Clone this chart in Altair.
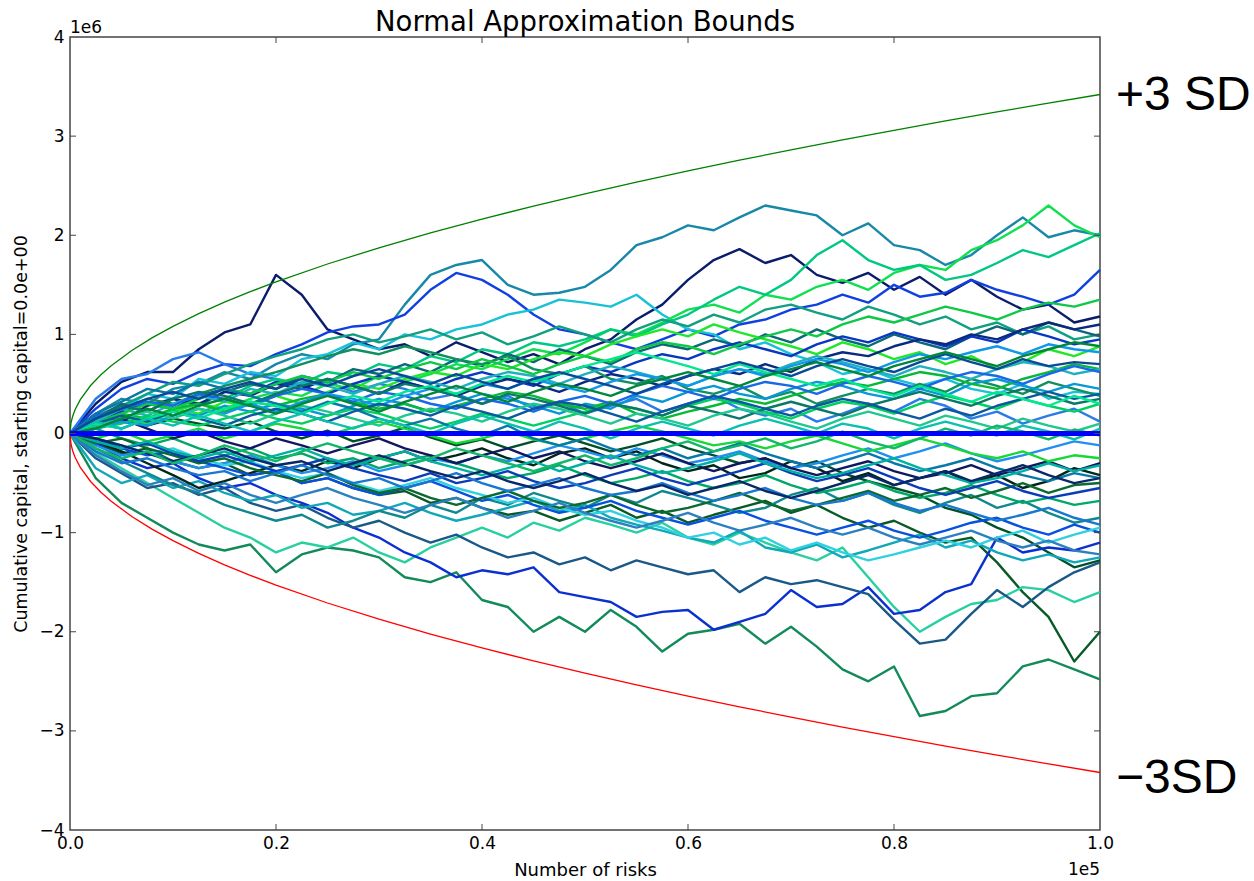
import altair as alt
import pandas as pd

X_STEPS = [0.0, 0.025, 0.05, 0.075, 0.1, 0.125, 0.15, 0.175, 0.2, 0.225, 0.25, 0.275, 0.3, 0.325,
           0.35, 0.375, 0.4, 0.425, 0.45, 0.475, 0.5, 0.525, 0.55, 0.575, 0.6, 0.625, 0.65, 0.675,
           0.7, 0.725, 0.75, 0.775, 0.8, 0.825, 0.85, 0.875, 0.9, 0.925, 0.95, 0.975, 1.0]

# cumulative capital (units of 1e6) for each simulated walk
WALK_01 = [0, .30, .52, .62, .62, .85, 1.02, 1.10, 1.60, 1.40, 1.05, .95, .85, .90, .78, .92, .82, .72, .80, .70, .85, .95, 1.15, 1.30, 1.55, 1.75, 1.86, 1.72, 1.80, 1.60, 1.52, 1.62, 1.45, 1.58, 1.40, 1.55, 1.38, 1.25, 1.30, 1.12, 1.18]
WALK_02 = [0, .20, .35, .30, .45, .50, .62, .55, .70, .80, .75, .90, .95, 1.30, 1.60, 1.70, 1.75, 1.50, 1.40, 1.42, 1.48, 1.65, 1.90, 1.98, 2.10, 2.05, 2.18, 2.30, 2.25, 2.20, 2.00, 2.12, 1.90, 1.85, 1.70, 1.80, 2.00, 2.18, 1.98, 2.05, 2.00]
WALK_03 = [0, .25, .45, .55, .50, .62, .70, .68, .80, .90, 1.02, 1.08, 1.10, 1.20, 1.45, 1.62, 1.55, 1.40, 1.20, 1.05, 1.00, .92, .85, .95, 1.05, .98, 1.10, 1.15, 1.25, 1.30, 1.40, 1.32, 1.50, 1.38, 1.42, 1.55, 1.45, 1.38, 1.30, 1.40, 1.65]
WALK_04 = [0, .35, .55, .60, .75, .82, .70, .60, .55, .48, .52, .42, .50, .45, .35, .40, .30, .38, .25, .32, .20, .28, .35, .22, .30, .38, .25, .18, .25, .12, .20, .30, .22, .35, .28, .15, .22, .10, .18, .25, .12]
WALK_05 = [0, .10, .25, .40, .35, .55, .50, .62, .58, .75, .80, .92, .85, 1.00, .95, 1.05, 1.10, 1.20, 1.25, 1.35, 1.32, 1.28, 1.40, 1.20, 1.05, 1.00, .85, .92, .80, .72, .60, .65, .55, .48, .55, .45, .40, .50, .35, .42, .40]
WALK_06 = [0, .05, .15, .10, .22, .30, .25, .35, .42, .38, .50, .45, .58, .52, .60, .70, .65, .75, .85, .80, .92, 1.05, 1.00, 1.12, 1.25, 1.30, 1.22, 1.40, 1.35, 1.48, 1.55, 1.45, 1.62, 1.70, 1.65, 1.85, 1.95, 2.10, 2.30, 2.10, 1.98]
WALK_07 = [0, .12, .20, .30, .28, .40, .35, .48, .55, .50, .62, .58, .70, .65, .78, .72, .85, .80, .92, .88, .95, 1.05, .98, 1.10, 1.20, 1.35, 1.48, 1.40, 1.55, 1.80, 1.95, 1.75, 1.65, 1.70, 1.55, 1.60, 1.72, 1.85, 1.78, 1.90, 2.02]
WALK_08 = [0, .18, .28, .40, .52, .48, .60, .70, .78, .85, .95, 1.00, .92, .98, 1.05, .95, 1.02, .90, .98, 1.08, 1.00, .92, 1.05, 1.15, 1.08, 1.20, 1.12, 1.25, 1.30, 1.22, 1.15, 1.28, 1.20, 1.10, 1.18, 1.05, 1.12, 1.00, 1.08, .95, 1.00]
WALK_09 = [0, .15, .30, .22, .35, .28, .42, .50, .45, .58, .52, .65, .60, .70, .62, .75, .68, .80, .72, .85, .78, .70, .82, .90, .85, .95, .88, 1.00, .92, 1.05, .95, .88, 1.00, .92, .85, .98, 1.08, 1.00, 1.12, 1.05, .98]
WALK_10 = [0, .08, .18, .12, .25, .20, .32, .28, .38, .30, .42, .50, .45, .55, .62, .58, .70, .65, .75, .82, .78, .90, .98, 1.05, .98, 1.10, 1.02, .95, .88, .80, .92, .85, .75, .82, .70, .78, .65, .72, .85, .78, .88]
WALK_11 = [0, .10, .22, .30, .25, .38, .45, .40, .52, .48, .40, .50, .58, .52, .45, .55, .62, .55, .48, .60, .68, .62, .72, .80, .75, .85, .92, .85, .78, .90, .98, .92, 1.02, .95, .88, .98, .92, 1.05, .98, .90, .95]
WALK_12 = [0, .20, .12, .28, .35, .30, .42, .38, .50, .45, .55, .48, .40, .52, .45, .38, .48, .55, .50, .42, .52, .60, .55, .48, .58, .65, .60, .70, .62, .75, .82, .78, .88, .95, .90, 1.00, .95, 1.05, 1.12, 1.05, 1.10]
WALK_13 = [0, .15, .25, .35, .30, .40, .48, .55, .62, .70, .78, .85, .80, .88, .82, .75, .70, .78, .65, .60, .68, .55, .50, .58, .45, .40, .48, .35, .42, .30, .38, .45, .40, .50, .42, .55, .48, .40, .52, .45, .38]
WALK_14 = [0, .10, .05, .15, .22, .18, .28, .22, .30, .25, .18, .28, .35, .30, .22, .32, .40, .35, .28, .20, .30, .25, .38, .32, .42, .48, .40, .35, .45, .52, .48, .40, .35, .45, .38, .50, .55, .48, .42, .50, .45]
WALK_15 = [0, .12, .20, .15, .25, .30, .22, .32, .28, .35, .40, .32, .25, .30, .22, .28, .35, .42, .38, .30, .25, .32, .20, .15, .22, .28, .35, .30, .38, .45, .52, .48, .55, .62, .58, .50, .45, .55, .62, .70, .65]
WALK_16 = [0, .05, .12, .08, .15, .10, .05, .12, .02, -.05, .03, -.08, -.02, .06, -.04, -.12, -.06, -.15, -.08, -.02, -.10, -.18, -.12, -.05, -.15, -.22, -.30, -.25, -.35, -.28, -.40, -.48, -.55, -.62, -.75, -.82, -.95, -1.05, -1.20, -1.35, -1.28]
WALK_17 = [0, -.10, -.20, -.15, -.28, -.35, -.30, -.42, -.38, -.50, -.45, -.55, -.62, -.58, -.70, -.65, -.75, -.82, -.78, -.88, -.80, -.72, -.85, -.78, -.90, -.82, -.75, -.68, -.80, -.72, -.85, -.95, -.88, -1.00, -1.10, -1.05, -1.30, -1.60, -1.85, -2.30, -2.00]
WALK_18 = [0, -.45, -.70, -.85, -1.0, -1.12, -1.18, -1.12, -1.40, -1.22, -1.15, -1.18, -1.25, -1.45, -1.50, -1.40, -1.68, -1.75, -2.00, -1.85, -2.00, -1.78, -1.95, -2.20, -2.02, -1.98, -1.92, -2.12, -1.95, -2.15, -2.38, -2.50, -2.35, -2.85, -2.80, -2.65, -2.62, -2.35, -2.28, -2.38, -2.48]
WALK_19 = [0, -.20, -.35, -.50, -.65, -.80, -.95, -1.05, -1.20, -1.10, -1.15, -1.05, -1.20, -1.30, -1.15, -1.05, -.95, -1.05, -.90, -.98, -.85, -.92, -1.00, -.90, -1.05, -1.12, -1.00, -1.10, -1.20, -1.28, -1.15, -1.45, -1.75, -2.00, -1.85, -1.72, -1.68, -1.55, -1.58, -1.70, -1.60]
WALK_20 = [0, -.10, -.25, -.35, -.30, -.45, -.55, -.50, -.62, -.70, -.80, -.95, -1.05, -1.20, -1.30, -1.45, -1.38, -1.42, -1.35, -1.60, -1.65, -1.70, -1.85, -1.80, -1.78, -1.98, -1.90, -1.82, -1.58, -1.75, -1.72, -1.55, -1.82, -1.78, -1.60, -1.52, -1.05, -1.20, -1.15, -1.18, -1.10]
WALK_21 = [0, -.25, -.40, -.55, -.50, -.62, -.55, -.70, -.78, -.72, -.85, -.95, -.88, -1.00, -1.10, -1.02, -1.15, -1.25, -1.20, -1.32, -1.25, -1.38, -1.28, -1.35, -1.42, -1.38, -1.60, -1.45, -1.52, -1.48, -1.55, -1.62, -1.88, -2.12, -2.08, -1.82, -1.58, -1.75, -1.55, -1.40, -1.30]
WALK_22 = [0, -.35, -.50, -.42, -.55, -.48, -.60, -.68, -.62, -.75, -.70, -.82, -.78, -.70, -.80, -.88, -.82, -.75, -.68, -.78, -.72, -.85, -.92, -.98, -1.05, -1.10, -.98, -1.15, -1.20, -1.12, -1.25, -1.18, -1.10, -1.02, -1.15, -1.08, -1.20, -1.28, -1.22, -1.30, -1.25]
WALK_23 = [0, -.15, -.28, -.40, -.52, -.60, -.72, -.80, -.88, -.82, -.95, -.88, -.78, -.85, -.72, -.80, -.65, -.72, -.60, -.68, -.75, -.62, -.70, -.58, -.65, -.72, -.80, -.75, -.62, -.55, -.68, -.60, -.72, -.80, -.70, -.62, -.75, -.68, -.80, -.90, -.85]
WALK_24 = [0, -.08, -.18, -.30, -.42, -.55, -.48, -.40, -.32, -.38, -.28, -.35, -.25, -.18, -.28, -.22, -.15, -.25, -.32, -.20, -.15, -.25, -.18, -.30, -.38, -.32, -.45, -.40, -.28, -.35, -.48, -.40, -.52, -.45, -.38, -.50, -.42, -.55, -.48, -.35, -.42]
WALK_25 = [0, -.12, -.22, -.18, -.28, -.35, -.30, -.22, -.32, -.40, -.35, -.28, -.38, -.32, -.25, -.30, -.22, -.28, -.20, -.12, -.18, -.25, -.15, -.22, -.30, -.25, -.18, -.28, -.35, -.30, -.22, -.15, -.25, -.18, -.10, -.20, -.28, -.22, -.15, -.08, -.12]
WALK_26 = [0, .05, -.05, -.12, -.05, -.15, -.22, -.15, -.25, -.20, -.30, -.25, -.35, -.28, -.22, -.30, -.38, -.45, -.40, -.32, -.42, -.50, -.45, -.38, -.48, -.55, -.50, -.42, -.52, -.60, -.55, -.48, -.58, -.65, -.60, -.52, -.62, -.70, -.65, -.72, -.68]
WALK_27 = [0, -.08, -.15, -.22, -.18, -.28, -.35, -.42, -.38, -.50, -.45, -.55, -.62, -.55, -.48, -.58, -.68, -.62, -.72, -.80, -.75, -.68, -.78, -.85, -.92, -.85, -.78, -.88, -.95, -1.02, -.95, -.88, -.98, -1.05, -.98, -.90, -.85, -.95, -1.02, -.92, -1.00]
WALK_28 = [0, .08, .15, .05, -.05, .02, -.08, -.15, -.05, -.12, -.20, -.12, -.05, -.15, -.22, -.30, -.22, -.15, -.25, -.18, -.28, -.35, -.28, -.20, -.30, -.38, -.30, -.25, -.35, -.42, -.35, -.28, -.38, -.45, -.40, -.32, -.42, -.35, -.28, -.38, -.30]
WALK_29 = [0, .12, .25, .18, .30, .38, .32, .45, .40, .52, .48, .40, .50, .58, .52, .45, .55, .62, .58, .50, .60, .68, .62, .55, .48, .58, .65, .60, .70, .78, .72, .65, .58, .68, .62, .55, .65, .72, .68, .60, .65]
WALK_30 = [0, .05, .10, .18, .12, .08, .15, .22, .15, .10, .18, .25, .20, .12, .05, .12, .20, .15, .08, .15, .22, .30, .25, .18, .28, .35, .30, .22, .15, .25, .32, .28, .20, .30, .38, .32, .25, .35, .28, .22, .30]
WALK_31 = [0, .18, .25, .32, .28, .40, .35, .28, .38, .45, .40, .32, .42, .38, .30, .25, .35, .30, .22, .32, .38, .30, .40, .48, .42, .35, .45, .52, .48, .40, .50, .58, .52, .45, .55, .62, .58, .50, .60, .68, .62]
WALK_32 = [0, .10, .20, .30, .25, .35, .45, .40, .50, .58, .52, .62, .55, .65, .72, .65, .75, .68, .60, .70, .78, .72, .85, .92, .88, .80, .90, .98, 1.05, .98, 1.10, 1.18, 1.12, 1.20, 1.28, 1.22, 1.15, 1.25, 1.32, 1.28, 1.35]
WALK_33 = [0, -.05, -.12, -.20, -.15, -.25, -.32, -.28, -.38, -.45, -.40, -.50, -.58, -.52, -.45, -.55, -.62, -.70, -.65, -.75, -.82, -.78, -.88, -.95, -1.05, -1.00, -1.12, -1.05, -1.18, -1.10, -1.20, -1.28, -1.22, -1.15, -1.08, -1.15, -1.05, -.98, -1.10, -1.02, -.95]
WALK_34 = [0, -.10, -.05, -.15, -.22, -.30, -.25, -.35, -.42, -.48, -.40, -.52, -.60, -.55, -.65, -.72, -.65, -.58, -.68, -.75, -.70, -.62, -.72, -.80, -.75, -.68, -.60, -.70, -.78, -.72, -.65, -.58, -.68, -.62, -.55, -.65, -.58, -.50, -.60, -.52, -.50]
WALK_35 = [0, .05, .12, .08, .18, .25, .20, .30, .22, .32, .40, .35, .28, .38, .45, .40, .50, .45, .55, .48, .42, .52, .60, .55, .48, .58, .65, .58, .68, .75, .70, .62, .72, .80, .75, .82, .88, .80, .90, .85, .82]
WALK_36 = [0, -.05, .02, -.08, -.02, .05, -.05, .02, .10, .05, -.02, .06, .12, .05, -.02, -.10, -.05, .02, -.06, -.12, -.05, .02, .08, .02, -.05, -.12, -.08, -.15, -.08, -.02, -.10, -.18, -.12, -.05, -.12, -.20, -.25, -.18, -.28, -.22, -.25]
WALK_37 = [0, .15, .28, .22, .35, .42, .38, .30, .40, .48, .55, .48, .40, .50, .45, .38, .30, .40, .35, .28, .20, .30, .25, .18, .28, .22, .15, .25, .32, .25, .18, .28, .35, .42, .35, .28, .38, .45, .38, .30, .35]
WALK_38 = [0, -.05, -.15, -.10, -.20, -.28, -.22, -.30, -.38, -.32, -.25, -.35, -.42, -.48, -.40, -.50, -.45, -.38, -.48, -.55, -.50, -.42, -.35, -.45, -.52, -.45, -.38, -.30, -.40, -.48, -.42, -.35, -.45, -.55, -.62, -.55, -.48, -.58, -.65, -.60, -.55]
WALK_39 = [0, .08, .15, .22, .15, .25, .18, .10, .20, .28, .22, .15, .08, .18, .25, .20, .12, .22, .30, .25, .18, .10, .20, .15, .08, .18, .25, .20, .12, .05, .15, .22, .15, .08, .18, .12, .05, .15, .08, .02, .10]
WALK_40 = [0, .20, .32, .45, .40, .52, .45, .38, .30, .22, .32, .25, .15, .08, .15, .05, -.02, .08, -.05, -.12, -.05, -.15, -.22, -.15, -.25, -.18, -.10, -.20, -.28, -.35, -.28, -.20, -.30, -.38, -.32, -.25, -.35, -.42, -.48, -.40, -.45]
WALK_41 = [0, .10, .18, .12, .22, .15, .08, .18, .25, .20, .12, .22, .30, .25, .18, .28, .22, .15, .25, .32, .28, .20, .12, .22, .30, .38, .32, .25, .18, .28, .35, .30, .22, .15, .25, .18, .28, .35, .42, .35, .40]
WALK_42 = [0, -.08, -.15, -.08, -.18, -.25, -.18, -.28, -.22, -.15, -.25, -.32, -.25, -.18, -.28, -.35, -.42, -.35, -.28, -.38, -.30, -.22, -.32, -.40, -.35, -.28, -.20, -.30, -.38, -.45, -.40, -.32, -.25, -.35, -.42, -.50, -.45, -.38, -.30, -.38, -.32]
WALK_43 = [0, -.18, -.30, -.25, -.35, -.42, -.38, -.48, -.40, -.32, -.42, -.50, -.45, -.55, -.48, -.40, -.50, -.58, -.52, -.45, -.55, -.62, -.58, -.50, -.60, -.68, -.62, -.55, -.65, -.72, -.68, -.60, -.70, -.78, -.72, -.80, -.88, -.82, -.75, -.85, -.92]
WALK_44 = [0, .10, .05, .15, .22, .15, .25, .32, .28, .20, .30, .38, .32, .42, .48, .40, .50, .58, .52, .60, .68, .75, .82, .75, .68, .60, .70, .62, .55, .48, .55, .45, .38, .48, .40, .32, .42, .35, .28, .38, .30]
WALK_45 = [0, -.05, -.12, -.20, -.28, -.22, -.15, -.25, -.32, -.28, -.38, -.30, -.22, -.30, -.38, -.45, -.38, -.48, -.55, -.48, -.40, -.50, -.58, -.52, -.62, -.55, -.48, -.58, -.65, -.58, -.50, -.42, -.52, -.45, -.38, -.48, -.40, -.32, -.42, -.50, -.45]
WALK_46 = [0, .12, .05, .15, .08, .18, .10, .02, .12, .20, .12, .05, .15, .08, .00, .10, .18, .10, .02, .12, .05, -.05, .05, .12, .05, -.02, .08, .15, .08, .00, .10, .05, -.05, .05, .12, .05, -.02, .08, .02, -.06, .05]
WALK_47 = [0, .15, .25, .35, .42, .35, .45, .52, .45, .55, .48, .58, .65, .58, .50, .60, .52, .45, .55, .62, .55, .48, .40, .50, .58, .65, .72, .65, .58, .68, .75, .68, .62, .72, .80, .72, .65, .75, .68, .72, .70]
WALK_48 = [0, -.15, -.25, -.18, -.30, -.22, -.12, -.20, -.28, -.18, -.10, -.18, -.25, -.32, -.25, -.15, -.22, -.30, -.38, -.30, -.22, -.32, -.25, -.15, -.08, -.18, -.12, -.05, -.15, -.08, .02, -.08, -.15, -.05, .05, -.02, .08, .02, -.06, .04, -.02]
WALK_49 = [0, -.22, -.38, -.52, -.45, -.58, -.50, -.62, -.70, -.62, -.55, -.65, -.72, -.80, -.72, -.65, -.75, -.85, -.78, -.70, -.80, -.88, -.95, -.88, -.80, -.90, -.98, -.92, -.85, -.95, -1.02, -.95, -1.05, -1.12, -1.05, -.98, -1.08, -1.15, -1.08, -1.18, -1.22]
WALK_50 = [0, .05, .15, .25, .18, .28, .35, .28, .20, .30, .38, .30, .22, .32, .40, .48, .40, .32, .42, .50, .45, .38, .48, .55, .62, .55, .48, .58, .65, .72, .65, .58, .68, .75, .82, .75, .68, .78, .85, .92, .88]

WALKS = [WALK_01, WALK_02, WALK_03, WALK_04, WALK_05, WALK_06, WALK_07, WALK_08, WALK_09, WALK_10,
         WALK_11, WALK_12, WALK_13, WALK_14, WALK_15, WALK_16, WALK_17, WALK_18, WALK_19, WALK_20,
         WALK_21, WALK_22, WALK_23, WALK_24, WALK_25, WALK_26, WALK_27, WALK_28, WALK_29, WALK_30,
         WALK_31, WALK_32, WALK_33, WALK_34, WALK_35, WALK_36, WALK_37, WALK_38, WALK_39, WALK_40,
         WALK_41, WALK_42, WALK_43, WALK_44, WALK_45, WALK_46, WALK_47, WALK_48, WALK_49, WALK_50]

WALK_COLORS = ["#0b1c6b", "#1888a8", "#1040e0", "#2a7ae8", "#18c0d8", "#10e050", "#00c880", "#10a080",
               "#0a6878", "#20e828", "#0838c0", "#0a2a80", "#109060", "#0898d8", "#08b838", "#00502a",
               "#0a5a28", "#128a5a", "#28d0a0", "#0a30d0", "#1a5888", "#10a8b8", "#108890", "#002818",
               "#2090f0", "#00a868", "#0850e0", "#101860", "#20b0c0", "#00d060", "#1868e8", "#10c848",
               "#30d0e0", "#0a6a30", "#1098e8", "#18d838", "#0a7868", "#0a3cb8", "#20c890", "#0878a8",
               "#0a58a0", "#00b0a0", "#1878d0", "#00e890", "#082868", "#0cc0b0", "#0a4898", "#10b868",
               "#2c80c0", "#00883a"]

# +/- 3 SD bounds (units of 1e6)
BOUND_X = [0.0, 0.001, 0.0025, 0.005, 0.01, 0.02, 0.03, 0.04, 0.06, 0.08, 0.1, 0.125, 0.15, 0.175, 0.2,
           0.25, 0.3, 0.35, 0.4, 0.45, 0.5, 0.55, 0.6, 0.65, 0.7, 0.75, 0.8, 0.85, 0.9, 0.95, 1.0]
UPPER_3SD = [0.0, 0.108, 0.171, 0.242, 0.342, 0.484, 0.592, 0.684, 0.838, 0.967, 1.081, 1.209, 1.325,
             1.431, 1.529, 1.71, 1.873, 2.023, 2.163, 2.294, 2.418, 2.536, 2.649, 2.757, 2.861, 2.962,
             3.059, 3.153, 3.244, 3.333, 3.42]
LOWER_3SD = [0.0, -0.108, -0.171, -0.242, -0.342, -0.484, -0.592, -0.684, -0.838, -0.967, -1.081,
             -1.209, -1.325, -1.431, -1.529, -1.71, -1.873, -2.023, -2.163, -2.294, -2.418, -2.536,
             -2.649, -2.757, -2.861, -2.962, -3.059, -3.153, -3.244, -3.333, -3.42]

MEAN_LEVEL = [0.0]

X_TICKS = [0.0, 0.2, 0.4, 0.6, 0.8, 1.0]
Y_TICKS = [-4, -3, -2, -1, 0, 1, 2, 3, 4]
X_INNER_TICKS = [0.2, 0.4, 0.6, 0.8]
Y_INNER_TICKS = [-3, -2, -1, 0, 1, 2, 3]

TITLE = "Normal Approximation Bounds"

# ---------------------------------------------------------------------------
names = [f"walk {i + 1:02d}" for i in range(len(WALKS))]
rows = []
for name, walk in zip(names, WALKS):
    for xv, yv in zip(X_STEPS, walk):
        rows.append({"x": xv, "y": yv, "series": name})
walk_df = pd.DataFrame(rows)

upper_df = pd.DataFrame({"x": BOUND_X, "y": UPPER_3SD})
lower_df = pd.DataFrame({"x": BOUND_X, "y": LOWER_3SD})
mean_df = pd.DataFrame({"y": MEAN_LEVEL})

FONT = "DejaVu Sans"
W, H = 1030, 793

x_scale = alt.Scale(domain=[0, 1], nice=False, zero=False)
y_scale = alt.Scale(domain=[-4, 4], nice=False, zero=False)

x_axis = alt.Axis(values=X_TICKS, format=".1f", title="Number of risks", ticks=False, domain=False,
                  grid=False, labelPadding=5, titlePadding=10, labelFontSize=17, titleFontSize=18,
                  titleFontWeight="normal", labelColor="black", titleColor="black", labelFont=FONT,
                  titleFont=FONT, labelFlush=False, labelOverlap=False)
y_axis = alt.Axis(values=Y_TICKS, format="d", title="Cumulative capital, starting capital=0.0e+00",
                  ticks=False, domain=False, grid=False, labelPadding=6, titlePadding=8,
                  labelFontSize=17, titleFontSize=17.5, titleFontWeight="normal", labelColor="black",
                  titleColor="black", labelFont=FONT, titleFont=FONT, labelFlush=False,
                  labelOverlap=False, labelExpr="replace(datum.label, '-', '\u2212')")

X_ENC = alt.X("x:Q", scale=x_scale, axis=x_axis)
Y_ENC = alt.Y("y:Q", scale=y_scale, axis=y_axis)

walks = alt.Chart(walk_df).mark_line(strokeWidth=2.4, strokeJoin="round").encode(
    x=X_ENC, y=Y_ENC,
    color=alt.Color("series:N", scale=alt.Scale(domain=names, range=WALK_COLORS), legend=None),
)

upper = alt.Chart(upper_df).mark_line(strokeWidth=1.3, color="#008000").encode(x=X_ENC, y=Y_ENC)
lower = alt.Chart(lower_df).mark_line(strokeWidth=1.3, color="#ff0000").encode(x=X_ENC, y=Y_ENC)

mean_line = alt.Chart(mean_df).mark_rule(strokeWidth=5, color="#0000ff").encode(y=Y_ENC)

tick_color = "#444444"
xt_df = pd.DataFrame({"x": X_INNER_TICKS})
yt_df = pd.DataFrame({"y": Y_INNER_TICKS})
xt_bottom = alt.Chart(xt_df).mark_rule(color=tick_color, strokeWidth=1).encode(
    x=X_ENC, y=alt.value(H), y2=alt.value(H - 6))
xt_top = alt.Chart(xt_df).mark_rule(color=tick_color, strokeWidth=1).encode(
    x=X_ENC, y=alt.value(0), y2=alt.value(6))
yt_left = alt.Chart(yt_df).mark_rule(color=tick_color, strokeWidth=1).encode(
    y=Y_ENC, x=alt.value(0), x2=alt.value(6))
yt_right = alt.Chart(yt_df).mark_rule(color=tick_color, strokeWidth=1).encode(
    y=Y_ENC, x=alt.value(W - 6), x2=alt.value(W))


def label(text, x, y, size, font, align="left"):
    return alt.Chart(pd.DataFrame({"t": [text]})).mark_text(
        fontSize=size, font=font, align=align, baseline="alphabetic", color="black"
    ).encode(text="t:N", x=alt.value(x), y=alt.value(y))


title_text = label(TITLE, W / 2, -6, 27.5, FONT, align="center")
exp_y = label("1e6", 0, -4, 17, FONT)
exp_x = label("1e5", W, 838, 17, FONT, align="right")
plus_sd = label("+3 SD", 1046, 73, 48, "Liberation Sans")
minus_sd = label("\u22123SD", 1046, 756, 48, "Liberation Sans")

chart = alt.layer(
    walks, upper, lower, mean_line, xt_bottom, xt_top, yt_left, yt_right,
    title_text, exp_y, exp_x, plus_sd, minus_sd,
).properties(
    width=W, height=H,
    autosize=alt.AutoSizeParams(type="none"),
    padding={"left": 70, "top": 37, "right": 154, "bottom": 51},
).configure_view(stroke="#444444", strokeWidth=1.5)

chart.save("out.html", embed_options={"renderer": "svg", "actions": False})
